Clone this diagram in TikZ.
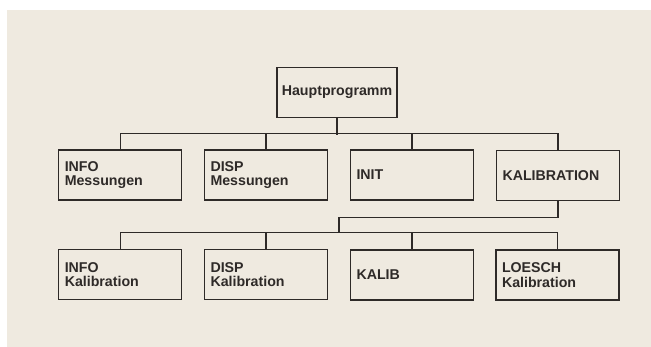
\documentclass[tikz,border=0pt]{standalone}
\usepackage{fontspec}
\setmainfont{Liberation Sans}
\definecolor{paper}{HTML}{EFEAE0}
\definecolor{ink}{HTML}{2E2A28}
\begin{document}
\begin{tikzpicture}[x=1pt,y=1pt,
  txt/.style={font=\bfseries\fontsize{14.2}{14.5}\selectfont, text=ink},
  box/.style={draw=ink, line width=1.3pt, rectangle, minimum height=50pt,
    inner xsep=6pt, inner ysep=0pt, text width=111pt, align=left, txt},
  link/.style={draw=ink, line width=1.3pt}]
\useasboundingbox (0,0) rectangle (651,-347);
\fill[white] (0,0) rectangle (651,-347);
\fill[paper] (7,-10) rectangle (651,-347);
% top
\node[draw=ink, line width=1.3pt, minimum width=120pt, minimum height=50pt, inner sep=0pt, txt]
  (haupt) at (337,-92.5) {Hauptprogramm};
% first row
\node[box] (infom) at (120.25,-175) {INFO\\Messungen};
\node[box] (dispm) at (266,-175) {DISP\\Messungen};
\node[box] (init) at (412,-175) {INIT};
\node[box] (kal) at (558,-175.5) {KALIBRATION};
% second row
\node[box] (infok) at (120.25,-274.7) {INFO\\Kalibration};
\node[box] (dispk) at (266,-274.7) {DISP\\Kalibration};
\node[box] (kalib) at (412,-275) {KALIB};
\node[box] (loesch) at (557.5,-275) {LOESCH\\Kalibration};
\coordinate (mid) at (339,-233.3);
% connectors level 1
\draw[link] (haupt.south) -- ++(0,-16.5);
\draw[link] (infom.north) -- ++(0,16) -| (kal.north);
\draw[link] (dispm.north) -- ++(0,16);
\draw[link] (init.north) -- ++(0,16);
% connectors level 2
\draw[link] (kal.south) -- ++(0,-16.5) -| (mid);
\draw[link] (infok.north) -- ++(0,16.7) -| (loesch.north);
\draw[link] (dispk.north) -- ++(0,16.7);
\draw[link] (kalib.north) -- ++(0,16.7);
\end{tikzpicture}
\end{document}
